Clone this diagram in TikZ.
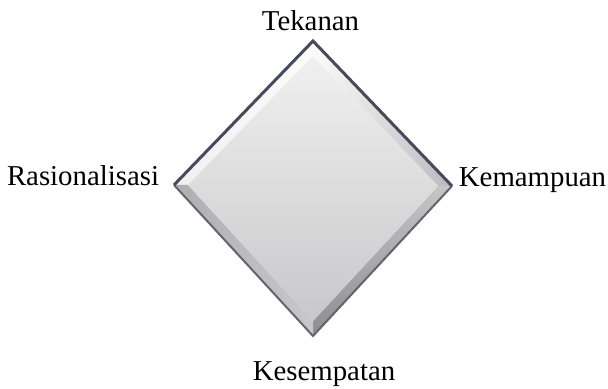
\documentclass[tikz,border=0pt]{standalone}
\usepackage{fontspec}
\setmainfont{Liberation Serif}
\usepackage{tikz}
\usetikzlibrary{positioning, calc}
\definecolor{edgedark}{RGB}{72,74,92}
\definecolor{edgesoft}{RGB}{100,100,108}
\definecolor{facetop}{RGB}{240,240,240}
\definecolor{facebot}{RGB}{200,200,202}
\definecolor{bevellight}{RGB}{252,252,252}
\definecolor{beveldark}{RGB}{140,140,146}

\begin{document}
\begin{tikzpicture}[x=0.5bp, y=-0.5bp,
    label/.style={font=\fontsize{14.4bp}{17bp}\selectfont, inner sep=0pt, anchor=base}]
    \useasboundingbox (0,0) rectangle (608,389);
    % corners of the diamond
    \coordinate (T) at (313,41);
    \coordinate (R) at (452,186);
    \coordinate (B) at (313,336);
    \coordinate (L) at (174,185);
    % inner face corners
    \coordinate (Ti) at (313,56);
    \coordinate (Ri) at (438,186);
    \coordinate (Bi) at (313,321);
    \coordinate (Li) at (188,185);
    % bevel facets
    \shade[top color=bevellight, bottom color=facetop] (T) -- (Ti) -- (Li) -- (L) -- cycle;
    \shade[left color=bevellight, right color=beveldark!60] (T) -- (R) -- (Ri) -- (Ti) -- cycle;
    \shade[top color=beveldark!50, bottom color=beveldark] (R) -- (B) -- (Bi) -- (Ri) -- cycle;
    \shade[left color=beveldark!70, right color=facebot] (L) -- (Li) -- (Bi) -- (B) -- cycle;
    % inner face
    \shade[top color=facetop, bottom color=facebot] (Ti) -- (Ri) -- (Bi) -- (Li) -- cycle;
    % edges
    \draw[edgesoft, line width=1bp, line join=miter] (L) -- (B) -- (R);
    \draw[edgedark, line width=1.5bp, line join=miter] (L) -- (T) -- (R);
    % labels
    \node[label] (tekanan) at (310.5,31) {Tekanan};
    \node[label] (rasio) at (83,186) {Rasionalisasi};
    \node[label] (mampu) at (532.5,187) {Kemampuan};
    \node[label] (sempat) at (324,381) {Kesempatan};
  \end{tikzpicture}
\end{document}
